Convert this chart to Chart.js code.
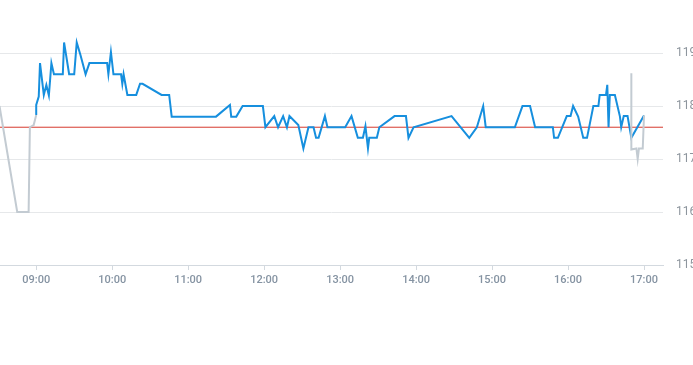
<!DOCTYPE html>
<html>
<head>
<meta charset="utf-8">
<script src="https://cdn.jsdelivr.net/npm/chart.js@4"></script>
<style>
  body { margin: 0; background: #fff; }
  #wrap { position: relative; width: 693px; height: 300px; }
</style>
</head>
<body>
<div id="wrap"><canvas id="priceChart"></canvas></div>
<script>
// ---- data ----
const axisRange = ['08:31', '17:15'];
const prevClose = 117.6;
const xTickLabels = ['09:00', '10:00', '11:00', '12:00', '13:00', '14:00', '15:00', '16:00', '17:00'];
const yTicks = [115, 116, 117, 118, 119];

// pre-market (grey)
const preTimes  = ['08:31', '08:45', '08:54', '08:55', '08:58', '09:00'];
const preValues = [118.00, 116.00, 116.00, 117.60, 117.64, 117.83];

// trading session (blue)
const sessionTimes = [
  '09:00', '09:00', '09:02', '09:03', '09:06', '09:08', '09:09', '09:10', '09:12', '09:14',
  '09:21', '09:22', '09:26', '09:30', '09:32', '09:35', '09:39', '09:42', '09:56', '09:57',
  '09:59', '10:01', '10:07', '10:08', '10:09', '10:12', '10:19', '10:22', '10:24', '10:39',
  '10:45', '10:47', '11:22', '11:33', '11:34', '11:38', '11:43', '11:59', '12:01', '12:08',
  '12:11', '12:15', '12:18', '12:20', '12:27', '12:31', '12:35', '12:39', '12:41', '12:43',
  '12:48', '12:50', '13:04', '13:09', '13:14', '13:18', '13:20', '13:22', '13:23', '13:29',
  '13:31', '13:43', '13:52', '13:54', '13:58', '14:28', '14:42', '14:48', '14:53', '14:55',
  '15:18', '15:24', '15:30', '15:34', '15:48', '15:49', '15:52', '15:59', '16:02', '16:04',
  '16:08', '16:12', '16:15', '16:20', '16:24', '16:25', '16:30', '16:31', '16:32', '16:33',
  '16:37', '16:41', '16:42', '16:44', '16:47', '16:50', '17:00'
];
const sessionValues = [
  117.83, 118.02, 118.18, 118.81, 118.21, 118.40, 118.30, 118.20, 118.81, 118.60,
  118.60, 119.20, 118.60, 118.60, 119.20, 118.96, 118.60, 118.81, 118.81, 118.60,
  119.02, 118.60, 118.60, 118.42, 118.60, 118.21, 118.21, 118.42, 118.42, 118.21,
  118.21, 117.80, 117.80, 118.02, 117.80, 117.80, 118.00, 118.00, 117.60, 117.81,
  117.60, 117.81, 117.60, 117.81, 117.64, 117.20, 117.60, 117.60, 117.40, 117.40,
  117.81, 117.60, 117.60, 117.81, 117.40, 117.40, 117.62, 117.20, 117.40, 117.40,
  117.60, 117.81, 117.81, 117.40, 117.60, 117.81, 117.40, 117.60, 118.00, 117.60,
  117.60, 118.00, 118.00, 117.60, 117.60, 117.40, 117.40, 117.81, 117.81, 118.00,
  117.80, 117.40, 117.40, 118.00, 118.00, 118.21, 118.21, 118.40, 117.60, 118.21,
  118.21, 117.80, 117.60, 117.81, 117.81, 117.40, 117.82
];

// after hours (grey)
const postTimes  = ['16:50', '16:50', '16:54', '16:55', '16:56', '16:59', '17:00'];
const postValues = [118.62, 117.18, 117.20, 117.00, 117.20, 117.20, 117.82];

// ---- helpers ----
function toMin(hhmm) {
  const [h, m] = hhmm.split(':').map(Number);
  return h * 60 + m;
}
function fmtMin(v) {
  const h = Math.floor(v / 60), m = Math.round(v % 60);
  return String(h).padStart(2, '0') + ':' + String(m).padStart(2, '0');
}
function points(times, values) {
  return times.map((t, i) => ({ x: toMin(t), y: values[i] }));
}

const xMin = toMin(axisRange[0]) + 0.4;
const xMax = toMin(axisRange[1]);

const greyPoints = points(preTimes, preValues)
  .concat([{ x: toMin(preTimes[preTimes.length - 1]) + 1, y: null }])
  .concat(points(postTimes, postValues));

new Chart(document.getElementById('priceChart'), {
  type: 'line',
  data: {
    datasets: [
      {
        data: greyPoints,
        borderColor: '#c3cbd2',
        borderWidth: 2,
        pointRadius: 0,
        tension: 0,
        spanGaps: false
      },
      {
        data: points(sessionTimes, sessionValues),
        borderColor: '#168fde',
        borderWidth: 2,
        pointRadius: 0,
        tension: 0
      },
      {
        data: [{ x: xMin, y: prevClose }, { x: xMax, y: prevClose }],
        borderColor: '#d6392e',
        borderWidth: 1,
        pointRadius: 0,
        tension: 0
      }
    ]
  },
  options: {
    responsive: true,
    maintainAspectRatio: false,
    animation: false,
    layout: { padding: 0 },
    plugins: { legend: { display: false }, tooltip: { enabled: false } },
    scales: {
      x: {
        type: 'linear',
        min: xMin,
        max: xMax,
        grid: { drawOnChartArea: false, drawTicks: true, tickLength: 5, color: '#d3d9df' },
        border: { display: true, color: '#d3d9df' },
        ticks: {
          autoSkip: false,
          maxRotation: 0,
          padding: 4,
          color: '#8593a2',
          font: { family: 'Roboto', size: 11, weight: '500' },
          callback: v => fmtMin(v)
        },
        afterBuildTicks: s => { s.ticks = xTickLabels.map(t => ({ value: toMin(t) })); },
        afterFit: s => { s.height = 35; }
      },
      y: {
        position: 'right',
        min: 115,
        max: 119.62,
        grid: { color: '#e6e8ea', drawTicks: false, tickLength: 0 },
        border: { display: false },
        ticks: {
          padding: 13,
          color: '#8d959d',
          font: { family: 'Roboto', size: 12 }
        },
        afterBuildTicks: s => { s.ticks = yTicks.map(v => ({ value: v })); },
        afterFit: s => { s.width = 30; }
      }
    }
  }
});
</script>
</body>
</html>
